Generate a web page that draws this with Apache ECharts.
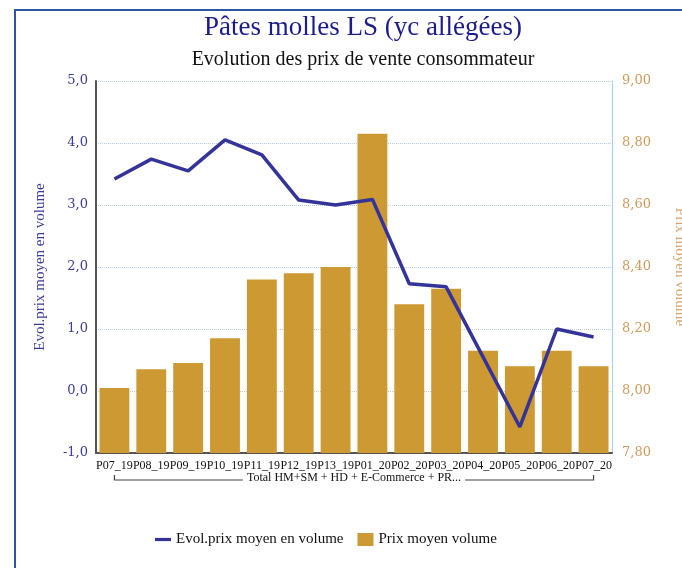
<!DOCTYPE html>
<html>
<head>
<meta charset="utf-8">
<script src="https://cdn.jsdelivr.net/npm/echarts@6/dist/echarts.min.js"></script>
<style>
  html, body { margin: 0; padding: 0; background: #fff; }
  #frame { position: absolute; left: 14px; top: 9px; width: 700px; height: 600px; border: 2px solid #2f56a6; }
  #myChart { position: absolute; left: 0; top: 0; width: 682px; height: 568px; }
</style>
</head>
<body>
<div id="frame"></div>
<div id="myChart"></div>
<script>
// periodes
const periodes = ["P07_19", "P08_19", "P09_19", "P10_19", "P11_19", "P12_19", "P13_19",
  "P01_20", "P02_20", "P03_20", "P04_20", "P05_20", "P06_20", "P07_20"];
// Prix moyen volume (axe droit)
const prixMoyen = [8.01, 8.07, 8.09, 8.17, 8.36, 8.38, 8.40, 8.83, 8.28, 8.33, 8.13, 8.08, 8.13, 8.08];
// Evol. prix moyen en volume (axe gauche)
const evolPrix = [3.42, 3.74, 3.55, 4.05, 3.81, 3.08, 3.0, 3.09, 1.73, 1.68, 0.55, -0.58, 1.0, 0.87];
const groupLabel = "Total HM+SM + HD + E-Commerce + PR...";

const serif = "Liberation Serif";
let myChart = echarts.init(document.getElementById("myChart"));

myChart.setOption({
  animation: false,
  title: [
    {
      text: "Pâtes molles LS (yc allégées)",
      left: 358, top: 9, textAlign: "center",
      textStyle: { color: "#1c1c8c", fontFamily: serif, fontSize: 27, fontWeight: "normal" }
    },
    {
      text: "Evolution des prix de vente consommateur",
      left: 358, top: 45, textAlign: "center",
      textStyle: { color: "#111", fontFamily: serif, fontSize: 20, fontWeight: "normal" }
    }
  ],
  legend: {
    bottom: 16,
    left: 150,
    itemGap: 14,
    itemWidth: 16,
    itemHeight: 13,
    textStyle: { color: "#111", fontFamily: serif, fontSize: 15 },
    data: [
      { name: "Evol.prix moyen en volume", icon: "path://M0,5 L20,5 L20,9 L0,9 Z", itemStyle: { color: "#333399" } },
      { name: "Prix moyen volume", icon: "rect" }
    ]
  },
  grid: { left: 96, right: 70, top: 81, bottom: 115, containLabel: false, outerBoundsMode: "none" },
  xAxis: {
    type: "category",
    data: periodes,
    axisLine: { onZero: false, lineStyle: { color: "#555", width: 2 } },
    axisTick: { show: false },
    axisLabel: { interval: 0, color: "#111", fontFamily: serif, fontSize: 12, margin: 7 }
  },
  yAxis: [
    {
      type: "value",
      min: -1, max: 5, interval: 1,
      name: "Evol.prix moyen en volume",
      nameLocation: "middle",
      nameGap: 48,
      nameTextStyle: { color: "#3b3b9c", fontFamily: serif, fontSize: 15 },
      axisLine: { show: true, lineStyle: { color: "#555", width: 2 } },
      axisTick: { show: false },
      axisLabel: {
        color: "#3b3b9c", fontFamily: "DejaVu Serif", fontSize: 13, margin: 8,
        formatter: v => v.toFixed(1).replace(".", ",")
      },
      splitLine: { lineStyle: { color: "#b4cbe3", type: "dotted", width: 1 } }
    },
    {
      type: "value",
      min: 7.8, max: 9.0, interval: 0.2,
      name: "Prix moyen volume",
      nameLocation: "middle",
      nameGap: 60,
      nameRotate: -90,
      nameTextStyle: { color: "#d9a46a", fontFamily: serif, fontSize: 15 },
      axisLine: { show: true, lineStyle: { color: "#aacdf3", width: 1 } },
      axisTick: { show: false },
      axisLabel: {
        color: "#d09a5c", fontFamily: "DejaVu Serif", fontSize: 13, margin: 10,
        formatter: v => v.toFixed(2).replace(".", ",")
      },
      splitLine: { show: false }
    }
  ],
  series: [
    {
      name: "Prix moyen volume",
      type: "bar",
      yAxisIndex: 1,
      barCategoryGap: "19%",
      itemStyle: { color: "#cc9933" },
      data: prixMoyen
    },
    {
      name: "Evol.prix moyen en volume",
      type: "line",
      yAxisIndex: 0,
      z: 5,
      symbol: "none",
      lineStyle: { color: "#333399", width: 3.5 },
      itemStyle: { color: "#333399" },
      data: evolPrix
    }
  ]
});

// accolade de regroupement sous les periodes
const x0 = myChart.convertToPixel({ xAxisIndex: 0 }, periodes[0]);
const x1 = myChart.convertToPixel({ xAxisIndex: 0 }, periodes[periodes.length - 1]);
const yb = 480;
myChart.setOption({
  graphic: [
    {
      type: "polyline",
      shape: { points: [[x0, yb - 5], [x0, yb], [x1, yb], [x1, yb - 5]] },
      style: { stroke: "#444", lineWidth: 1.2, fill: null }
    },
    {
      type: "text",
      x: (x0 + x1) / 2, y: yb - 2,
      style: {
        text: groupLabel, align: "center", verticalAlign: "middle",
        fill: "#111", font: "12px 'Liberation Serif'",
        backgroundColor: "#fff", padding: [0, 4]
      }
    }
  ]
});
</script>
</body>
</html>
